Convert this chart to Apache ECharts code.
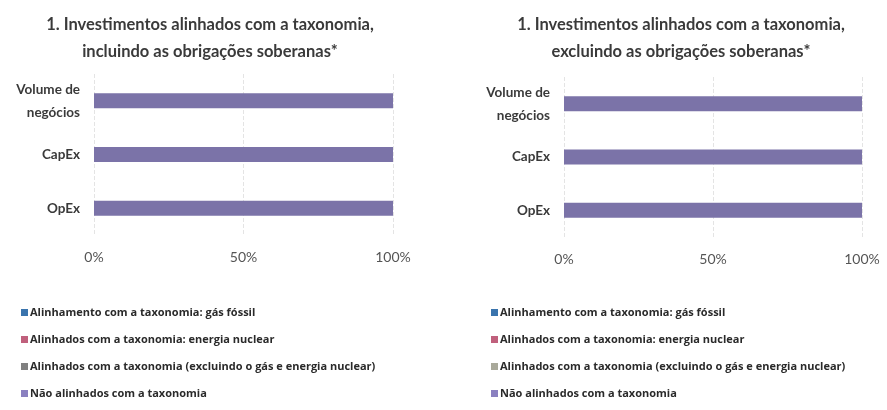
<!DOCTYPE html>
<html>
<head>
<meta charset="utf-8">
<script src="https://cdn.jsdelivr.net/npm/echarts@6/dist/echarts.min.js"></script>
<style>
  html, body { margin: 0; padding: 0; background: #fff; }
  #chart { width: 887px; height: 410px; }
</style>
</head>
<body>
<div id="chart"></div>
<script>
// dados
var categories = ['OpEx', 'CapEx', 'Volume de\nnegócios']
var seriesNames = [
  'Alinhamento com a taxonomia: gás fóssil',
  'Alinhados com a taxonomia: energia nuclear',
  'Alinhados com a taxonomia (excluindo o gás e energia nuclear)',
  'Não alinhados com a taxonomia'
]
var gasInc = [0, 0, 0]
var nuclearInc = [0, 0, 0]
var alignedInc = [0, 0, 0]
var notAlignedInc = [100, 100, 100]
var gasExc = [0, 0, 0]
var nuclearExc = [0, 0, 0]
var alignedExc = [0, 0, 0]
var notAlignedExc = [100, 100, 100]
var xTicks = [0, 50, 100]

var colorsLeft = ['#3a74ad', '#c0607c', '#808080', '#8a80c0']
var colorsRight = ['#3a74ad', '#c0607c', '#a9a99a', '#8a80c0']
var barColor = '#7b73a8'
var textColor = '#3a3a3a'
var font = 'Lato'

function makeAxes(idx) {
  return {
    x: {
      type: 'value', gridIndex: idx, min: 0, max: 100, interval: 50,
      axisLine: { show: false }, axisTick: { show: false },
      splitLine: { lineStyle: { color: '#e4e4e4', type: 'dashed', width: 1 } },
      axisLabel: {
        margin: 15, color: '#555', fontFamily: font, fontSize: 14,
        formatter: function (v) { return xTicks.indexOf(v) >= 0 ? v + '%' : '' }
      }
    },
    y: {
      type: 'category', gridIndex: idx, data: categories,
      axisLine: { show: false }, axisTick: { show: false },
      axisLabel: {
        margin: 14, color: textColor, fontFamily: font, fontWeight: 'bold',
        fontSize: 13.5, lineHeight: 23, align: 'right'
      }
    }
  }
}

function makeSeries(idx, values, colors) {
  return values.map(function (d, i) {
    return {
      name: seriesNames[i], type: 'bar', stack: 's' + idx,
      xAxisIndex: idx, yAxisIndex: idx, barWidth: 15,
      data: d,
      itemStyle: { color: i === 3 ? barColor : colors[i] }
    }
  })
}

function makeLegend(left, colors) {
  return {
    orient: 'vertical', left: left, top: 302,
    itemWidth: 7, itemHeight: 7, itemGap: 16,
    icon: 'rect',
    textStyle: { color: '#2a2a2a', fontFamily: 'Open Sans', fontWeight: 'bold', fontSize: 11, padding: [0, 0, 0, -3] },
    selectedMode: false,
    data: seriesNames.map(function (n, i) {
      return { name: n, itemStyle: { color: colors[i] } }
    })
  }
}

var a0 = makeAxes(0)
var a1 = makeAxes(1)

var titleStyle = { color: textColor, fontFamily: font, fontWeight: 'bold', fontSize: 16.5, lineHeight: 27 }

var chart = echarts.init(document.getElementById('chart'))
chart.setOption({
  animation: false,
  title: [
    {
      text: '1. Investimentos alinhados com a taxonomia,\nincluindo as obrigações soberanas*',
      left: 205, top: 6, textAlign: 'center', textStyle: titleStyle
    },
    {
      text: '1. Investimentos alinhados com a taxonomia,\nexcluindo as obrigações soberanas*',
      left: 676, top: 6, textAlign: 'center', textStyle: titleStyle
    }
  ],
  legend: [makeLegend(16, colorsLeft), makeLegend(486, colorsRight)],
  grid: [
    { left: 94, width: 299, top: 74, height: 161 },
    { left: 564, width: 298, top: 77, height: 160 }
  ],
  xAxis: [a0.x, a1.x],
  yAxis: [a0.y, a1.y],
  series: makeSeries(0, [gasInc, nuclearInc, alignedInc, notAlignedInc], colorsLeft)
    .concat(makeSeries(1, [gasExc, nuclearExc, alignedExc, notAlignedExc], colorsRight))
})
</script>
</body>
</html>
